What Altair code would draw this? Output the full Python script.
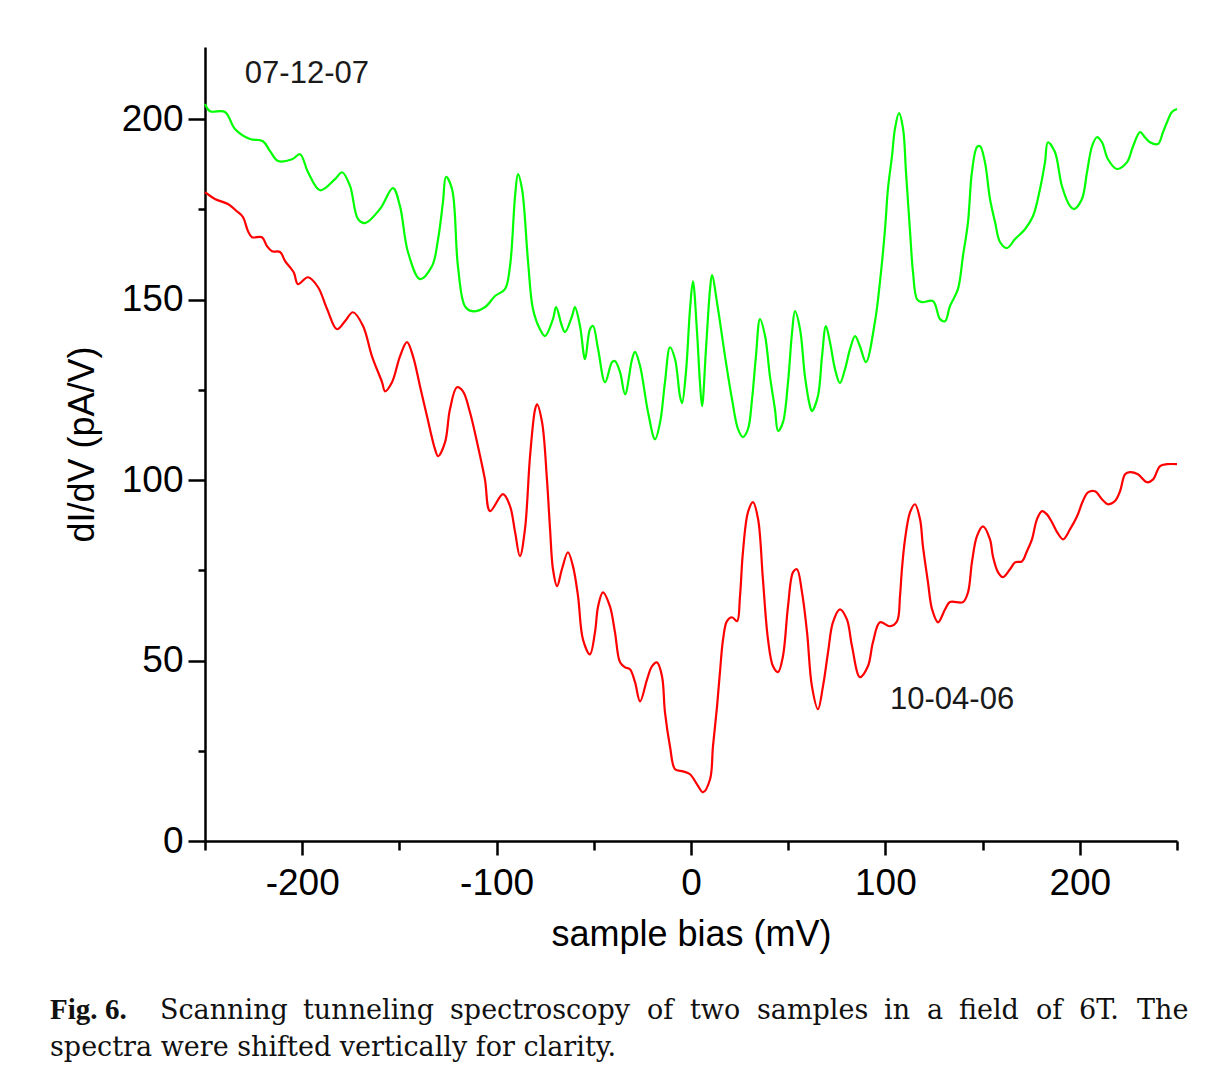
import altair as alt
import pandas as pd

# ---------------- data ----------------
series_names = ["07-12-07", "10-04-06"]
series_colors = ["#00ff00", "#ff0000"]

bias_green = [
    -250.0, -247.4, -239.7, -234.6, -226.9, -220.2, -216.6, -212.4, -205.2, -201.1,
    -197.0, -190.8, -183.1, -179.5, -175.4, -171.3, -167.7, -160.0, -153.3, -149.7,
    -145.6, -139.4, -133.2, -130.1, -127.6, -126.0, -122.9, -119.9, -116.3, -112.7,
    -106.0, -100.8, -95.7, -93.1, -90.5, -89.0, -86.9, -83.8, -81.3, -77.7,
    -75.1, -71.0, -69.4, -66.4, -64.8, -61.2, -59.7, -57.1, -54.5, -52.0,
    -50.4, -47.8, -44.2, -40.6, -39.1, -36.5, -33.9, -30.3, -28.8, -26.2,
    -22.1, -18.5, -15.9, -13.4, -10.8, -8.2, -5.7, -4.6, -2.6, -0.5,
    1.0, 3.1, 4.6, 5.7, 7.7, 9.8, 10.8, 13.9, 17.5, 21.1,
    24.2, 26.7, 29.3, 31.4, 33.4, 35.5, 38.1, 40.6, 43.2, 44.8,
    47.3, 49.9, 52.0, 53.5, 56.1, 58.6, 61.2, 62.2, 65.3, 67.4,
    69.4, 71.5, 74.1, 76.6, 79.2, 81.8, 84.4, 86.9, 90.0, 94.6,
    97.2, 99.8, 101.3, 103.4, 104.9, 107.0, 109.1, 110.6, 112.7, 114.2,
    116.3, 118.8, 124.5, 128.1, 130.7, 133.2, 137.3, 139.9, 142.5, 144.5,
    147.1, 148.7, 151.2, 153.8, 156.4, 159.0, 162.6, 166.7, 171.8, 175.9,
    179.5, 182.1, 183.6, 187.2, 190.8, 195.0, 197.0, 201.1, 203.7, 206.3,
    208.8, 211.4, 214.5, 219.1, 224.3, 227.4, 231.0, 233.5, 236.1, 240.2,
    242.8, 244.9, 247.4, 250.0,
]
didv_green = [
    204.2, 202.2, 202.0, 197.3, 194.5, 193.9, 191.2, 188.4, 188.9, 190.3,
    185.3, 180.3, 183.4, 185.3, 181.5, 172.3, 171.2, 175.1, 180.9, 175.9,
    163.2, 155.7, 159.3, 166.8, 177.0, 184.0, 180.6, 159.3, 148.2, 146.8,
    147.9, 151.0, 152.9, 159.3, 178.7, 184.8, 180.6, 160.4, 147.4, 141.8,
    139.9, 144.6, 147.9, 142.7, 141.0, 145.4, 147.9, 142.7, 133.5, 141.8,
    142.7, 136.3, 127.1, 132.7, 133.0, 129.9, 123.8, 133.5, 135.5, 131.6,
    118.8, 111.3, 116.0, 127.1, 136.8, 133.5, 123.3, 121.3, 129.9, 147.4,
    155.1, 141.0, 127.1, 120.5, 136.3, 152.9, 156.8, 147.4, 134.3, 122.4,
    114.1, 111.9, 114.1, 122.4, 134.3, 144.6, 139.9, 128.8, 119.6, 113.6,
    116.0, 127.1, 141.0, 146.8, 141.8, 128.8, 120.5, 119.1, 123.3, 134.3,
    142.7, 138.2, 130.7, 126.9, 130.7, 136.3, 139.9, 137.1, 132.7, 143.8,
    154.9, 169.5, 180.6, 189.8, 197.3, 201.7, 197.3, 185.3, 168.7, 157.6,
    150.1, 149.3, 149.6, 144.6, 144.0, 148.2, 152.9, 162.1, 171.5, 185.3,
    192.3, 192.5, 188.1, 177.9, 171.5, 165.9, 164.3, 166.8, 169.5, 173.1,
    180.6, 188.1, 193.6, 190.9, 181.5, 175.9, 175.1, 177.9, 185.3, 192.5,
    195.0, 193.6, 188.9, 186.2, 188.1, 192.5, 196.4, 195.0, 193.6, 193.1,
    196.4, 199.2, 202.0, 202.8,
]

bias_red = [
    -250.0, -244.9, -238.2, -233.6, -230.5, -227.9, -225.8, -220.7, -218.1, -215.5,
    -211.4, -208.8, -206.3, -204.2, -202.2, -197.0, -191.9, -187.2, -182.1, -178.0,
    -173.9, -168.7, -164.1, -158.9, -157.4, -153.8, -149.7, -146.1, -143.0, -139.4,
    -135.8, -131.7, -130.1, -126.5, -124.0, -120.4, -117.3, -113.7, -109.6, -106.0,
    -103.4, -96.7, -93.1, -90.5, -88.0, -85.4, -82.8, -80.2, -79.2, -76.6,
    -74.1, -72.5, -71.0, -68.9, -66.4, -63.3, -60.7, -58.1, -55.6, -52.0,
    -49.4, -47.8, -45.3, -41.7, -39.1, -36.5, -33.9, -31.4, -28.8, -26.2,
    -22.6, -20.1, -17.5, -14.9, -13.4, -10.8, -8.2, -4.1, -0.5, 3.1,
    6.2, 9.8, 11.3, 13.4, 14.9, 16.5, 18.5, 21.1, 23.7, 25.2,
    26.7, 29.3, 31.9, 34.5, 37.0, 39.6, 42.2, 44.8, 47.3, 49.9,
    52.5, 54.5, 57.1, 59.7, 62.2, 65.3, 67.9, 70.5, 73.0, 76.6,
    80.2, 82.8, 86.9, 91.0, 93.6, 97.2, 102.3, 106.0, 107.5, 108.5,
    110.1, 112.7, 115.2, 117.8, 119.3, 121.9, 124.0, 127.1, 130.7, 133.2,
    139.9, 142.5, 144.5, 147.1, 150.2, 153.8, 155.3, 157.9, 160.5, 164.1,
    166.7, 170.3, 172.8, 175.4, 178.0, 180.6, 183.1, 185.7, 188.3, 191.4,
    195.0, 198.6, 201.6, 204.2, 207.8, 211.4, 214.5, 218.1, 220.7, 223.3,
    225.8, 229.9, 234.6, 237.7, 241.3, 244.9, 250.0,
]
didv_red = [
    179.8, 177.9, 176.5, 174.5, 172.9, 169.0, 167.3, 167.3, 164.8, 163.4,
    163.2, 160.7, 159.0, 157.4, 154.3, 156.2, 153.5, 147.4, 141.8, 144.0,
    146.5, 142.7, 134.3, 127.1, 124.6, 127.1, 134.3, 138.2, 134.3, 126.0,
    117.7, 108.6, 106.6, 110.5, 119.6, 125.7, 124.6, 118.8, 109.4, 100.2,
    91.4, 96.1, 92.8, 85.6, 78.9, 86.4, 106.6, 119.6, 121.0, 116.0,
    100.2, 86.4, 75.3, 70.6, 75.3, 80.0, 76.1, 67.8, 55.9, 51.7,
    57.8, 65.0, 68.9, 65.0, 57.8, 49.5, 48.1, 47.6, 44.0, 38.7,
    44.8, 48.4, 49.5, 45.6, 35.7, 26.2, 19.9, 19.3, 18.5, 15.7,
    13.5, 17.1, 26.2, 37.3, 46.8, 55.9, 60.9, 62.0, 60.9, 67.8,
    80.0, 91.1, 93.9, 89.2, 72.5, 55.9, 48.4, 46.8, 51.2, 65.0,
    74.5, 75.3, 68.9, 57.8, 42.9, 36.5, 42.9, 52.3, 60.6, 64.2,
    61.4, 54.0, 45.4, 48.4, 55.1, 60.6, 59.5, 60.9, 67.8, 75.3,
    83.6, 91.1, 93.3, 89.2, 81.7, 71.7, 64.2, 60.6, 64.2, 66.2,
    66.2, 68.9, 77.2, 84.5, 87.2, 83.6, 78.9, 74.5, 73.1, 75.3,
    77.2, 77.5, 80.3, 83.6, 89.2, 91.4, 90.5, 88.3, 85.6, 83.6,
    86.4, 90.0, 94.2, 96.6, 96.9, 94.7, 93.3, 94.2, 96.9, 101.6,
    102.2, 101.6, 99.4, 100.2, 103.9, 104.4, 104.4,
]

# axis ticks
x_major = [-200, -100, 0, 100, 200]
x_minor = [-250, -150, -50, 50, 150, 250]
y_major = [0, 50, 100, 150, 200]
y_minor = [25, 75, 125, 175]

# in-plot labels (data coordinates)
annot_text = ["07-12-07", "10-04-06"]
annot_bias = [-229.5, 102.4]
annot_didv = [212.6, 39.2]

# caption
caption_words = ["Fig.", "6.", "Scanning", "tunneling", "spectroscopy", "of", "two",
                 "samples", "in", "a", "field", "of", "6T.", "The"]
caption_bold = [True, True, False, False, False, False, False,
                False, False, False, False, False, False, False]
caption_line2 = "spectra were shifted vertically for clarity."

# ---------------- layout (pixels, relative to plot origin) ----------------
caption_word_px = [-155, -100, -45, 98, 245, 442, 485, 552, 679, 722, 754, 831, 874, 932]
caption_line1_py = 972
caption_line2_py = 1009
caption_left_px = -155

df = pd.concat([
    pd.DataFrame({"bias": bias_green, "didv": didv_green, "series": series_names[0]}),
    pd.DataFrame({"bias": bias_red, "didv": didv_red, "series": series_names[1]}),
], ignore_index=True)

xs = alt.Scale(domain=[-250, 250], nice=False, zero=False)
ys = alt.Scale(domain=[0, 220], nice=False, zero=False)

FONT = "Liberation Sans"
SERIF = "DejaVu Serif"
SERIF_BOLD = "Liberation Serif"

lines = alt.Chart(df).mark_line(strokeWidth=2.2, interpolate="catmull-rom").encode(
    x=alt.X("bias:Q", scale=xs, axis=alt.Axis(
        values=x_major, tickSize=14, labelPadding=10, labelExpr="'' + datum.value",
        title="sample bias (mV)", titlePadding=16, orient="bottom")),
    y=alt.Y("didv:Q", scale=ys, axis=alt.Axis(
        values=y_major, tickSize=17, labelPadding=5,
        title="dI/dV (pA/V)", titlePadding=20, orient="left")),
    color=alt.Color("series:N", scale=alt.Scale(domain=series_names, range=series_colors), legend=None),
)

minor = alt.Chart(df).mark_line(strokeOpacity=0).encode(
    x=alt.X("bias:Q", scale=xs, title=None, axis=alt.Axis(
        values=x_minor, tickSize=9, labels=False, domain=False, orient="bottom")),
    y=alt.Y("didv:Q", scale=ys, title=None, axis=alt.Axis(
        values=y_minor, tickSize=7, labels=False, domain=False, orient="left")),
)

ann_df = pd.DataFrame({"t": annot_text, "bias": annot_bias, "didv": annot_didv})
ann = alt.Chart(ann_df).mark_text(
    align="left", baseline="middle", fontSize=31, font=FONT, color="#1a1a1a"
).encode(
    x=alt.X("bias:Q", scale=xs, axis=None),
    y=alt.Y("didv:Q", scale=ys, axis=None),
    text="t:N",
)

cap_df = pd.DataFrame({"w": caption_words, "px": caption_word_px, "bold": caption_bold})
cap_bold = alt.Chart(cap_df[cap_df["bold"]]).mark_text(
    align="left", baseline="alphabetic", fontSize=29, font=SERIF_BOLD, fontWeight="bold", color="#111"
).encode(
    x=alt.X("px:Q", scale=None, axis=None),
    y=alt.value(caption_line1_py),
    text="w:N",
)
cap_norm = alt.Chart(cap_df[~cap_df["bold"]]).mark_text(
    align="left", baseline="alphabetic", fontSize=27, font=SERIF, color="#111"
).encode(
    x=alt.X("px:Q", scale=None, axis=None),
    y=alt.value(caption_line1_py),
    text="w:N",
)
cap2 = alt.Chart(pd.DataFrame({"t": [caption_line2]})).mark_text(
    align="left", baseline="alphabetic", fontSize=27, font=SERIF, color="#111"
).encode(
    x=alt.value(caption_left_px),
    y=alt.value(caption_line2_py),
    text="t:N",
)

chart = alt.layer(lines, minor, ann, cap_bold, cap_norm, cap2).resolve_axis(
    x="independent", y="independent"
).properties(
    width=972, height=794,
    autosize=alt.AutoSizeParams(type="none"),
    padding={"left": 197, "top": 39, "right": 20, "bottom": 230},
).configure_view(stroke=None).configure_axis(
    grid=False, domainColor="black", domainWidth=2.5, tickColor="black", tickWidth=2.5,
    labelFont=FONT, titleFont=FONT, labelColor="#000", titleColor="#000",
    labelFontSize=37, titleFontSize=36, titleFontWeight="normal",
)

chart.save("out.html", embed_options={"renderer": "svg", "actions": False})
